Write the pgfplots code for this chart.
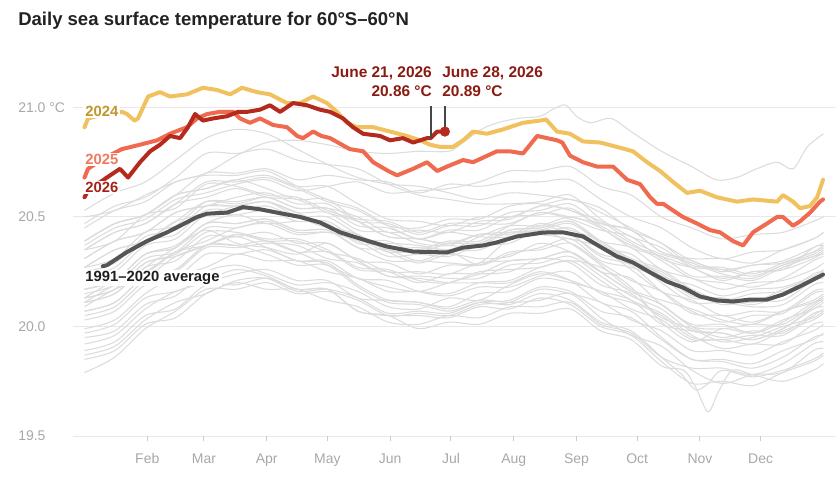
\documentclass[border=0pt]{standalone}
\usepackage{fontspec}
\setmainfont{Liberation Sans}
\usepackage{pgfplots}
\pgfplotsset{compat=1.18}

\definecolor{c2024}{HTML}{F2C15F}
\definecolor{c2024txt}{HTML}{C1962C}
\definecolor{c2025}{HTML}{EF6A4E}
\definecolor{c2025txt}{HTML}{F07A60}
\definecolor{c2026}{HTML}{B42A1E}
\definecolor{c2026txt}{HTML}{A52219}
\definecolor{annot}{HTML}{8A1B12}
\definecolor{avgline}{HTML}{555555}
\definecolor{yrgray}{HTML}{DCDCDC}
\definecolor{gridgray}{HTML}{E8E8E8}
\definecolor{tickgray}{HTML}{A8A8A8}
\definecolor{titletxt}{HTML}{222222}

\pgfplotsset{
  yr/.style={yrgray, line width=0.8pt, smooth, no markers, forget plot},
  hot/.style={line width=3pt, line join=round, line cap=round, no markers},
}
\tikzset{
  lbl/.style={fill=white, inner xsep=1.5pt, inner ysep=1pt, anchor=base west,
              font=\fontsize{11.1}{13}\selectfont\bfseries},
  callout/.style={inner sep=0pt, text=annot, font=\fontsize{11.6}{14}\selectfont\bfseries},
}

\begin{document}
\begin{tikzpicture}
\path[use as bounding box] (0,0) rectangle (630pt,372.75pt);

\node[anchor=base west, text=titletxt, inner sep=0pt,
      font=\fontsize{13.9}{16}\selectfont\bfseries]
  at (13.5pt,353.25pt) {Daily sea surface temperature for 60°S–60°N};

\begin{axis}[
  at={(54.75pt,45.75pt)}, anchor=south west,
  scale only axis, width=572.25pt, height=267.75pt,
  xmin=-5.7, xmax=371.2, ymin=19.5, ymax=21.13,
  clip=false,
  axis line style={draw=none},
  ymajorgrids, grid style={gridgray, line width=0.75pt},
  ytick={19.5,20,20.5,21},
  yticklabels={19.5,20.0,20.5,21.0 °C},
  xtick={31,59,90,120,151,181,212,243,273,304,334},
  xticklabels={Feb,Mar,Apr,May,Jun,Jul,Aug,Sep,Oct,Nov,Dec},
  xtick pos=bottom, ytick pos=left,
  tick align=outside, major tick length=3.75pt,
  xtick style={tickgray!60, line width=0.75pt},
  ytick style={draw=none},
  tick label style={text=tickgray, font=\fontsize{10.5}{12}\selectfont},
  yticklabel style={anchor=west, inner sep=0pt, xshift=-37.5pt},
  xticklabel style={yshift=-6pt},
]

% earlier years, 1982-2023
\addplot[yr] coordinates {(0,19.95)(15,19.98)(30,20.10)(45,20.14)(60,20.25)(75,20.28)(90,20.24)(105,20.19)(120,20.20)(135,20.16)(150,20.09)(165,20.08)(180,20.13)(195,20.12)(210,20.19)(225,20.24)(240,20.21)(255,20.16)(270,20.12)(285,20.01)(300,19.98)(315,19.97)(330,19.94)(345,19.99)(360,20.09)(365,20.12)};
\addplot[yr] coordinates {(0,20.13)(15,20.21)(30,20.25)(45,20.34)(60,20.37)(75,20.41)(90,20.36)(105,20.30)(120,20.29)(135,20.19)(150,20.12)(165,20.11)(180,20.08)(195,20.12)(210,20.11)(225,20.12)(240,20.15)(255,20.04)(270,19.96)(285,19.91)(300,19.80)(315,19.74)(330,19.78)(345,19.79)(360,19.89)(365,19.90)};
\addplot[yr] coordinates {(0,19.89)(15,19.93)(30,20.05)(45,20.08)(60,20.19)(75,20.19)(90,20.22)(105,20.17)(120,20.17)(135,20.07)(150,20.05)(165,20.05)(180,20.04)(195,20.09)(210,20.08)(225,20.13)(240,20.10)(255,20.00)(270,19.96)(285,19.84)(300,19.74)(315,19.75)(330,19.73)(345,19.79)(360,19.84)(365,19.87)};
\addplot[yr] coordinates {(0,19.85)(15,19.89)(30,20.01)(45,20.04)(60,20.15)(75,20.20)(90,20.17)(105,20.17)(120,20.12)(135,20.09)(150,20.02)(165,20.01)(180,20.05)(195,20.04)(210,20.09)(225,20.09)(240,20.11)(255,20.01)(270,19.97)(285,19.86)(300,19.81)(315,19.81)(330,19.78)(345,19.83)(360,19.92)(365,19.93)};
\addplot[yr] coordinates {(0,19.92)(15,19.96)(30,20.08)(45,20.16)(60,20.20)(75,20.24)(90,20.26)(105,20.21)(120,20.21)(135,20.13)(150,20.12)(165,20.11)(180,20.09)(195,20.15)(210,20.16)(225,20.22)(240,20.20)(255,20.16)(270,20.08)(285,20.03)(300,19.94)(315,19.94)(330,19.92)(345,19.98)(360,20.03)(365,20.06)};
\addplot[yr] coordinates {(0,20.09)(15,20.17)(30,20.22)(45,20.32)(60,20.37)(75,20.42)(90,20.39)(105,20.39)(120,20.34)(135,20.31)(150,20.25)(165,20.25)(180,20.24)(195,20.29)(210,20.30)(225,20.31)(240,20.34)(255,20.25)(270,20.16)(285,20.10)(300,20.00)(315,19.95)(330,19.98)(345,19.97)(360,20.06)(365,20.07)};
\addplot[yr] coordinates {(0,20.07)(15,20.11)(30,20.23)(45,20.26)(60,20.37)(75,20.37)(90,20.33)(105,20.28)(120,20.28)(135,20.18)(150,20.11)(165,20.10)(180,20.07)(195,20.11)(210,20.10)(225,20.15)(240,20.12)(255,20.02)(270,19.98)(285,19.86)(295,19.78)(302,19.71)(308,19.74)(315,19.80)(330,19.77)(345,19.80)(360,19.85)(365,19.88)};
\addplot[yr] coordinates {(0,19.79)(15,19.86)(30,19.99)(45,20.07)(60,20.17)(75,20.17)(90,20.20)(105,20.15)(120,20.16)(135,20.12)(150,20.05)(165,20.06)(180,20.05)(195,20.10)(210,20.11)(225,20.17)(240,20.15)(255,20.11)(270,20.03)(285,19.98)(300,19.89)(315,19.89)(330,19.87)(345,19.93)(360,19.98)(365,20.01)};
\addplot[yr] coordinates {(0,20.05)(15,20.09)(30,20.21)(45,20.25)(60,20.36)(75,20.36)(90,20.38)(105,20.37)(120,20.31)(135,20.29)(150,20.23)(165,20.23)(180,20.22)(195,20.22)(210,20.28)(225,20.29)(240,20.32)(255,20.23)(270,20.14)(285,20.08)(300,19.98)(315,19.97)(330,19.94)(345,19.99)(360,20.08)(365,20.09)};
\addplot[yr] coordinates {(0,20.11)(15,20.15)(30,20.27)(45,20.30)(60,20.41)(75,20.41)(90,20.43)(105,20.38)(120,20.38)(135,20.30)(150,20.23)(165,20.22)(180,20.20)(195,20.20)(210,20.20)(225,20.25)(240,20.21)(255,20.11)(270,20.07)(285,19.95)(300,19.85)(315,19.84)(330,19.81)(345,19.86)(360,19.95)(365,19.96)};
\addplot[yr] coordinates {(0,19.97)(15,20.01)(30,20.13)(45,20.16)(60,20.21)(75,20.26)(90,20.23)(105,20.17)(120,20.17)(135,20.07)(150,20.05)(165,19.99)(180,20.02)(195,20.01)(210,20.06)(225,20.06)(240,20.08)(255,19.98)(270,19.94)(285,19.82)(296,19.80)(302,19.72)(308,19.61)(313,19.70)(320,19.80)(330,19.78)(345,19.75)(360,19.80)(365,19.83)};
\addplot[yr] coordinates {(0,19.87)(15,19.91)(30,20.03)(45,20.11)(60,20.15)(75,20.21)(90,20.22)(105,20.16)(120,20.17)(135,20.13)(150,20.06)(165,20.07)(180,20.06)(195,20.11)(210,20.12)(225,20.18)(240,20.16)(255,20.07)(270,20.04)(285,19.94)(300,19.85)(315,19.85)(330,19.83)(345,19.89)(360,19.94)(365,19.97)};
\addplot[yr] coordinates {(0,19.99)(15,20.03)(30,20.15)(45,20.23)(60,20.27)(75,20.33)(90,20.30)(105,20.30)(120,20.25)(135,20.22)(150,20.16)(165,20.16)(180,20.15)(195,20.20)(210,20.21)(225,20.27)(240,20.30)(255,20.27)(270,20.18)(285,20.02)(300,19.93)(315,19.99)(330,19.97)(345,20.03)(360,20.08)(365,20.11)};
\addplot[yr] coordinates {(0,20.13)(15,20.17)(30,20.29)(45,20.33)(60,20.43)(75,20.43)(90,20.40)(105,20.40)(120,20.35)(135,20.27)(150,20.26)(165,20.21)(180,20.20)(195,20.25)(210,20.26)(225,20.27)(240,20.30)(255,20.21)(270,20.12)(285,20.06)(300,19.96)(315,19.90)(330,19.92)(345,19.92)(360,20.01)(365,20.02)};
\addplot[yr] coordinates {(0,20.03)(15,20.07)(30,20.19)(45,20.22)(60,20.33)(75,20.33)(90,20.35)(105,20.30)(120,20.30)(135,20.22)(150,20.21)(165,20.16)(180,20.14)(195,20.18)(210,20.18)(225,20.23)(240,20.25)(255,20.15)(270,20.11)(285,20.05)(300,19.95)(315,19.94)(330,19.96)(345,19.96)(360,20.05)(365,20.08)};
\addplot[yr] coordinates {(0,20.11)(15,20.19)(30,20.24)(45,20.34)(60,20.39)(75,20.45)(90,20.47)(105,20.42)(120,20.43)(135,20.40)(150,20.34)(165,20.35)(180,20.39)(195,20.39)(210,20.46)(225,20.52)(240,20.50)(255,20.47)(270,20.44)(285,20.34)(300,20.31)(315,20.31)(330,20.29)(345,20.35)(360,20.40)(365,20.43)};
\addplot[yr] coordinates {(0,20.45)(15,20.53)(30,20.57)(45,20.66)(60,20.69)(75,20.69)(90,20.71)(105,20.64)(120,20.58)(135,20.54)(150,20.46)(165,20.40)(180,20.43)(195,20.41)(210,20.41)(225,20.46)(240,20.42)(255,20.32)(270,20.28)(285,20.16)(300,20.06)(315,20.05)(330,20.02)(345,20.07)(360,20.11)(365,20.14)};
\addplot[yr] coordinates {(0,20.13)(15,20.17)(30,20.29)(45,20.32)(60,20.37)(75,20.42)(90,20.39)(105,20.34)(120,20.34)(135,20.26)(150,20.25)(165,20.20)(180,20.24)(195,20.24)(210,20.25)(225,20.31)(240,20.29)(255,20.19)(270,20.15)(285,20.04)(300,19.99)(315,19.93)(330,19.95)(345,20.00)(360,20.04)(365,20.07)};
\addplot[yr] coordinates {(0,20.07)(15,20.11)(30,20.23)(45,20.26)(60,20.37)(75,20.37)(90,20.39)(105,20.34)(120,20.28)(135,20.22)(150,20.18)(165,20.16)(180,20.20)(195,20.24)(210,20.30)(225,20.31)(240,20.34)(255,20.25)(270,20.16)(285,20.10)(300,20.00)(315,19.99)(330,20.01)(345,20.01)(360,20.10)(365,20.13)};
\addplot[yr] coordinates {(0,20.17)(15,20.21)(30,20.33)(45,20.36)(60,20.47)(75,20.47)(90,20.49)(105,20.44)(120,20.44)(135,20.36)(150,20.35)(165,20.30)(180,20.34)(195,20.28)(210,20.33)(225,20.36)(240,20.40)(255,20.30)(270,20.27)(285,20.22)(300,20.13)(315,20.13)(330,20.11)(345,20.17)(360,20.22)(365,20.25)};
\addplot[yr] coordinates {(0,20.27)(15,20.31)(30,20.43)(45,20.46)(60,20.57)(75,20.57)(90,20.59)(105,20.54)(120,20.54)(135,20.46)(150,20.45)(165,20.40)(180,20.44)(195,20.44)(210,20.50)(225,20.51)(240,20.54)(255,20.45)(270,20.37)(285,20.32)(300,20.23)(315,20.23)(330,20.21)(345,20.27)(360,20.32)(365,20.33)};
\addplot[yr] coordinates {(0,20.35)(15,20.43)(30,20.47)(45,20.56)(60,20.59)(75,20.63)(90,20.59)(105,20.58)(120,20.52)(135,20.48)(150,20.41)(165,20.40)(180,20.38)(195,20.42)(210,20.42)(225,20.47)(240,20.44)(255,20.39)(270,20.30)(285,20.24)(300,20.14)(315,20.13)(330,20.10)(345,20.15)(360,20.24)(365,20.25)};
\addplot[yr] coordinates {(0,20.25)(15,20.29)(30,20.41)(45,20.44)(60,20.55)(75,20.55)(90,20.57)(105,20.52)(120,20.46)(135,20.42)(150,20.35)(165,20.34)(180,20.38)(195,20.38)(210,20.44)(225,20.45)(240,20.48)(255,20.39)(270,20.31)(285,20.26)(300,20.17)(315,20.12)(330,20.15)(345,20.16)(360,20.21)(365,20.24)};
\addplot[yr] coordinates {(0,20.27)(15,20.35)(30,20.39)(45,20.48)(60,20.51)(75,20.55)(90,20.57)(105,20.52)(120,20.52)(135,20.44)(150,20.43)(165,20.38)(180,20.37)(195,20.42)(210,20.43)(225,20.44)(240,20.47)(255,20.38)(270,20.30)(285,20.25)(300,20.16)(315,20.10)(330,20.12)(345,20.12)(360,20.21)(365,20.22)};
\addplot[yr] coordinates {(0,20.21)(15,20.25)(30,20.37)(45,20.40)(60,20.51)(75,20.51)(90,20.53)(105,20.48)(120,20.48)(135,20.40)(150,20.39)(165,20.34)(180,20.38)(195,20.38)(210,20.44)(225,20.45)(240,20.48)(255,20.39)(270,20.36)(285,20.26)(300,20.22)(315,20.17)(330,20.20)(345,20.21)(360,20.26)(365,20.29)};
\addplot[yr] coordinates {(0,20.31)(15,20.39)(30,20.43)(45,20.52)(60,20.55)(75,20.55)(90,20.57)(105,20.50)(120,20.45)(135,20.42)(150,20.34)(165,20.29)(180,20.33)(195,20.31)(210,20.32)(225,20.38)(240,20.34)(255,20.25)(270,20.22)(285,20.10)(300,20.01)(315,20.01)(330,19.97)(345,20.02)(360,20.11)(365,20.12)};
\addplot[yr] coordinates {(0,20.11)(15,20.15)(30,20.27)(45,20.36)(60,20.44)(75,20.38)(90,20.36)(105,20.33)(120,20.38)(135,20.30)(150,20.29)(165,20.24)(180,20.28)(195,20.28)(210,20.34)(225,20.35)(240,20.38)(255,20.29)(270,20.21)(285,20.16)(300,20.07)(315,20.02)(330,20.05)(345,20.06)(360,20.15)(365,20.16)};
\addplot[yr] coordinates {(0,20.17)(15,20.21)(30,20.33)(45,20.37)(60,20.47)(75,20.51)(90,20.47)(105,20.48)(120,20.47)(135,20.38)(150,20.38)(165,20.37)(180,20.35)(195,20.41)(210,20.46)(225,20.46)(240,20.50)(255,20.45)(270,20.36)(285,20.32)(300,20.27)(315,20.21)(330,20.25)(345,20.26)(360,20.36)(365,20.37)};
\addplot[yr] coordinates {(0,20.39)(15,20.47)(30,20.51)(45,20.60)(60,20.63)(75,20.67)(90,20.63)(105,20.58)(120,20.58)(135,20.48)(150,20.41)(165,20.40)(180,20.37)(195,20.37)(210,20.43)(225,20.42)(240,20.40)(255,20.36)(270,20.26)(285,20.16)(300,20.12)(315,20.05)(330,20.07)(345,20.07)(360,20.16)(365,20.17)};
\addplot[yr] coordinates {(0,20.17)(15,20.21)(30,20.33)(45,20.36)(60,20.47)(75,20.47)(90,20.49)(105,20.44)(120,20.44)(135,20.36)(150,20.30)(165,20.30)(180,20.29)(195,20.29)(210,20.40)(225,20.44)(240,20.38)(255,20.28)(270,20.17)(285,20.12)(300,20.08)(315,20.03)(330,20.01)(345,20.07)(360,20.12)(365,20.15)};
\addplot[yr] coordinates {(0,20.15)(15,20.19)(30,20.31)(45,20.34)(60,20.45)(75,20.45)(90,20.48)(105,20.43)(120,20.43)(135,20.39)(150,20.32)(165,20.33)(180,20.32)(195,20.37)(210,20.38)(225,20.44)(240,20.42)(255,20.33)(270,20.30)(285,20.20)(300,20.11)(315,20.11)(330,20.09)(345,20.10)(360,20.19)(365,20.20)};
\addplot[yr] coordinates {(0,20.23)(15,20.27)(30,20.39)(45,20.42)(60,20.53)(75,20.53)(90,20.55)(105,20.50)(120,20.50)(135,20.42)(150,20.36)(165,20.36)(180,20.35)(195,20.35)(210,20.41)(225,20.42)(240,20.45)(255,20.36)(270,20.33)(285,20.23)(300,20.19)(315,20.14)(330,20.17)(345,20.18)(360,20.23)(365,20.26)};
\addplot[yr] coordinates {(0,20.27)(15,20.35)(30,20.39)(45,20.48)(60,20.57)(75,20.56)(90,20.59)(105,20.54)(120,20.54)(135,20.50)(150,20.43)(165,20.44)(180,20.43)(195,20.48)(210,20.49)(225,20.55)(240,20.53)(255,20.46)(270,20.38)(285,20.30)(300,20.22)(315,20.20)(330,20.18)(345,20.22)(360,20.30)(365,20.32)};
\addplot[yr] coordinates {(0,20.37)(15,20.45)(30,20.49)(45,20.58)(60,20.61)(75,20.65)(90,20.67)(105,20.62)(120,20.64)(135,20.66)(150,20.61)(165,20.62)(180,20.63)(195,20.66)(210,20.71)(225,20.71)(240,20.73)(255,20.64)(270,20.60)(285,20.50)(300,20.45)(315,20.40)(330,20.42)(345,20.43)(360,20.48)(365,20.50)};
\addplot[yr] coordinates {(0,20.53)(15,20.61)(30,20.66)(45,20.76)(60,20.86)(75,20.90)(90,20.88)(105,20.81)(120,20.74)(135,20.68)(150,20.65)(165,20.64)(180,20.61)(195,20.58)(210,20.61)(225,20.60)(240,20.58)(255,20.54)(270,20.44)(285,20.38)(300,20.28)(315,20.27)(330,20.24)(345,20.29)(360,20.34)(365,20.37)};
\addplot[yr] coordinates {(0,20.39)(15,20.47)(30,20.51)(45,20.60)(60,20.63)(75,20.67)(90,20.69)(105,20.64)(120,20.64)(135,20.56)(150,20.49)(165,20.48)(180,20.46)(195,20.50)(210,20.50)(225,20.55)(240,20.58)(255,20.52)(270,20.45)(285,20.38)(300,20.30)(315,20.26)(330,20.28)(345,20.30)(360,20.36)(365,20.38)};
\addplot[yr] coordinates {(0,20.31)(15,20.39)(30,20.43)(45,20.52)(60,20.55)(75,20.59)(90,20.61)(105,20.56)(120,20.56)(135,20.48)(150,20.47)(165,20.42)(180,20.46)(195,20.46)(210,20.52)(225,20.53)(240,20.56)(255,20.47)(270,20.44)(285,20.34)(300,20.30)(315,20.25)(330,20.28)(345,20.29)(360,20.34)(365,20.37)};
\addplot[yr] coordinates {(0,20.39)(15,20.47)(30,20.51)(45,20.60)(60,20.70)(75,20.70)(90,20.72)(105,20.67)(120,20.69)(135,20.67)(150,20.66)(165,20.61)(180,20.65)(195,20.64)(210,20.66)(225,20.66)(240,20.67)(255,20.58)(270,20.50)(285,20.45)(300,20.36)(315,20.31)(330,20.34)(345,20.35)(360,20.40)(365,20.43)};
\addplot[yr] coordinates {(0,20.47)(15,20.55)(30,20.59)(45,20.68)(60,20.79)(75,20.79)(90,20.81)(105,20.76)(120,20.74)(135,20.72)(150,20.65)(165,20.60)(180,20.58)(195,20.56)(210,20.56)(225,20.57)(240,20.60)(255,20.49)(270,20.41)(285,20.36)(300,20.27)(315,20.22)(330,20.25)(345,20.26)(360,20.31)(365,20.34)};
\addplot[yr] coordinates {(0,20.35)(15,20.39)(30,20.51)(45,20.54)(60,20.65)(75,20.64)(90,20.60)(105,20.59)(120,20.53)(135,20.49)(150,20.48)(165,20.43)(180,20.47)(195,20.47)(210,20.47)(225,20.52)(240,20.49)(255,20.44)(270,20.41)(285,20.31)(300,20.27)(315,20.26)(330,20.23)(345,20.28)(360,20.32)(365,20.35)};
\addplot[yr] coordinates {(0,20.35)(15,20.43)(30,20.47)(45,20.56)(60,20.66)(75,20.66)(90,20.68)(105,20.63)(120,20.57)(135,20.53)(150,20.46)(165,20.45)(180,20.49)(195,20.49)(210,20.55)(225,20.56)(240,20.53)(255,20.48)(270,20.39)(285,20.33)(300,20.29)(315,20.24)(330,20.22)(345,20.28)(360,20.33)(365,20.36)};
% 2023
\addplot[yr] coordinates {(0,20.50)(15,20.53)(30,20.60)(45,20.66)(60,20.70)(75,20.78)(90,20.84)(105,20.85)(120,20.83)(135,20.80)(150,20.79)(165,20.80)(180,20.80)(187,20.84)(196,20.90)(204,20.93)(214,20.95)(225,20.96)(233,21.00)(238,21.01)(243,20.96)(250,20.93)(260,20.95)(270,20.89)(285,20.80)(300,20.73)(312,20.67)(322,20.68)(332,20.72)(342,20.75)(350,20.72)(357,20.82)(365,20.88)};

% 1991-2020 average
\addplot[hot, avgline] coordinates {(9,20.275)(11.1,20.28)(21,20.34)(30.9,20.39)(40.8,20.43)(47.2,20.46)(55.6,20.50)(60.5,20.515)(70.4,20.52)(78.3,20.545)(86.7,20.535)(95.1,20.52)(106.5,20.50)(116.3,20.475)(121.3,20.452)(126.2,20.43)(137.6,20.397)(149.4,20.365)(162.3,20.342)(179,20.338)(187,20.36)(196.9,20.37)(203.7,20.384)(213.6,20.411)(226.5,20.429)(236.4,20.43)(246.2,20.411)(254.6,20.365)(263,20.32)(270.9,20.292)(279.4,20.247)(287.7,20.205)(295.6,20.178)(304,20.137)(312.4,20.119)(320.3,20.114)(328.7,20.123)(337.1,20.123)(345,20.146)(353.4,20.183)(364.8,20.237)};

% 2024
\addplot[hot, c2024] coordinates {(0,20.91)(1.7,20.95)(10,20.97)(18.5,20.98)(21,20.97)(24.7,20.94)(26.4,20.95)(31.4,21.05)(37.3,21.07)(42.2,21.05)(50.6,21.06)(58.5,21.09)(65.4,21.08)(71.9,21.06)(77.8,21.09)(85.2,21.07)(91.6,21.06)(100,21.02)(106.5,21.02)(112.9,21.05)(119.8,21.02)(124.7,20.98)(129.6,20.93)(134.6,20.91)(142.6,20.91)(150.9,20.89)(159.3,20.87)(165.7,20.85)(170.7,20.83)(175.6,20.82)(182,20.82)(187,20.85)(191.9,20.89)(198.8,20.88)(206.7,20.90)(216.6,20.93)(225,20.94)(228,20.945)(233.4,20.89)(239.8,20.88)(246.2,20.845)(254.6,20.84)(263,20.82)(270.9,20.80)(277.9,20.75)(284.3,20.71)(290.7,20.66)(297.6,20.61)(304,20.62)(312.4,20.59)(322.3,20.57)(330.2,20.58)(342.1,20.57)(345,20.60)(350,20.57)(353.4,20.54)(358.4,20.55)(361.9,20.59)(364.8,20.67)};

% 2025
\addplot[hot, c2025] coordinates {(0,20.68)(1.7,20.72)(10,20.77)(18.5,20.81)(27.4,20.83)(35.8,20.85)(42.2,20.88)(50.6,20.91)(55.6,20.95)(60.5,20.97)(66.9,20.98)(73.4,20.98)(76.8,20.95)(81.7,20.93)(86.7,20.95)(93.1,20.92)(100,20.91)(105,20.87)(107.9,20.86)(112.9,20.89)(117,20.87)(121.3,20.86)(131,20.81)(137.6,20.80)(142.6,20.75)(150,20.71)(154.4,20.69)(162.3,20.72)(169.2,20.75)(174.2,20.71)(179,20.73)(187,20.76)(191.9,20.75)(203.7,20.80)(210,20.80)(216.6,20.79)(223.6,20.87)(233.4,20.85)(236,20.84)(239.8,20.78)(246.2,20.75)(253.2,20.73)(261.1,20.73)(268,20.67)(274.4,20.65)(279.4,20.59)(282.8,20.56)(285.8,20.56)(290.7,20.53)(295.6,20.50)(302.6,20.47)(309,20.44)(313.9,20.43)(320.3,20.39)(325.3,20.37)(330.2,20.43)(337.1,20.47)(342.1,20.50)(345,20.50)(350,20.46)(353.4,20.48)(358.4,20.52)(363.3,20.57)(364.8,20.58)};

% 2026 so far
\addplot[hot, c2026] coordinates {(0,20.59)(1.7,20.62)(11,20.68)(17.5,20.72)(21.5,20.68)(27.4,20.75)(32.4,20.80)(37.3,20.83)(42.2,20.87)(47.2,20.86)(51.1,20.91)(54.6,20.97)(58.5,20.94)(63.5,20.95)(70.4,20.96)(75.8,20.98)(80.3,20.98)(86.7,20.99)(91.6,21.01)(96.6,20.98)(103,21.02)(109.9,21.01)(116.3,20.99)(121.3,20.98)(127.7,20.95)(132.6,20.91)(137.6,20.88)(146,20.87)(150.9,20.85)(157.3,20.86)(162.3,20.84)(169.2,20.86)(171,20.86)(174.2,20.89)(178,20.89)};

% callout leaders and latest-value dot
\addplot[no markers, color=black!72, line width=1.2pt] coordinates {(171,21.005)(171,20.86)};
\addplot[no markers, color=black!72, line width=1.2pt] coordinates {(178,21.005)(178,20.89)};
\addplot[only marks, mark=*, mark size=3.6pt, color=c2026] coordinates {(178,20.89)};

% series labels
\node[lbl, text=c2024txt] at (axis cs:-0.7,20.959) {2024};
\node[lbl, text=c2025txt] at (axis cs:-0.7,20.740) {2025};
\node[lbl, text=c2026txt] at (axis cs:-0.7,20.612) {2026};
\node[lbl, text=black!88] at (axis cs:-0.7,20.2055) {1991–2020 average};

% callout texts
\node[callout, anchor=base east] at (axis cs:171.7,21.135) {June 21, 2026};
\node[callout, anchor=base east] at (axis cs:171.7,21.051) {20.86 °C};
\node[callout, anchor=base west] at (axis cs:176.6,21.135) {June 28, 2026};
\node[callout, anchor=base west] at (axis cs:176.6,21.051) {20.89 °C};
\end{axis}
\end{tikzpicture}
\end{document}
